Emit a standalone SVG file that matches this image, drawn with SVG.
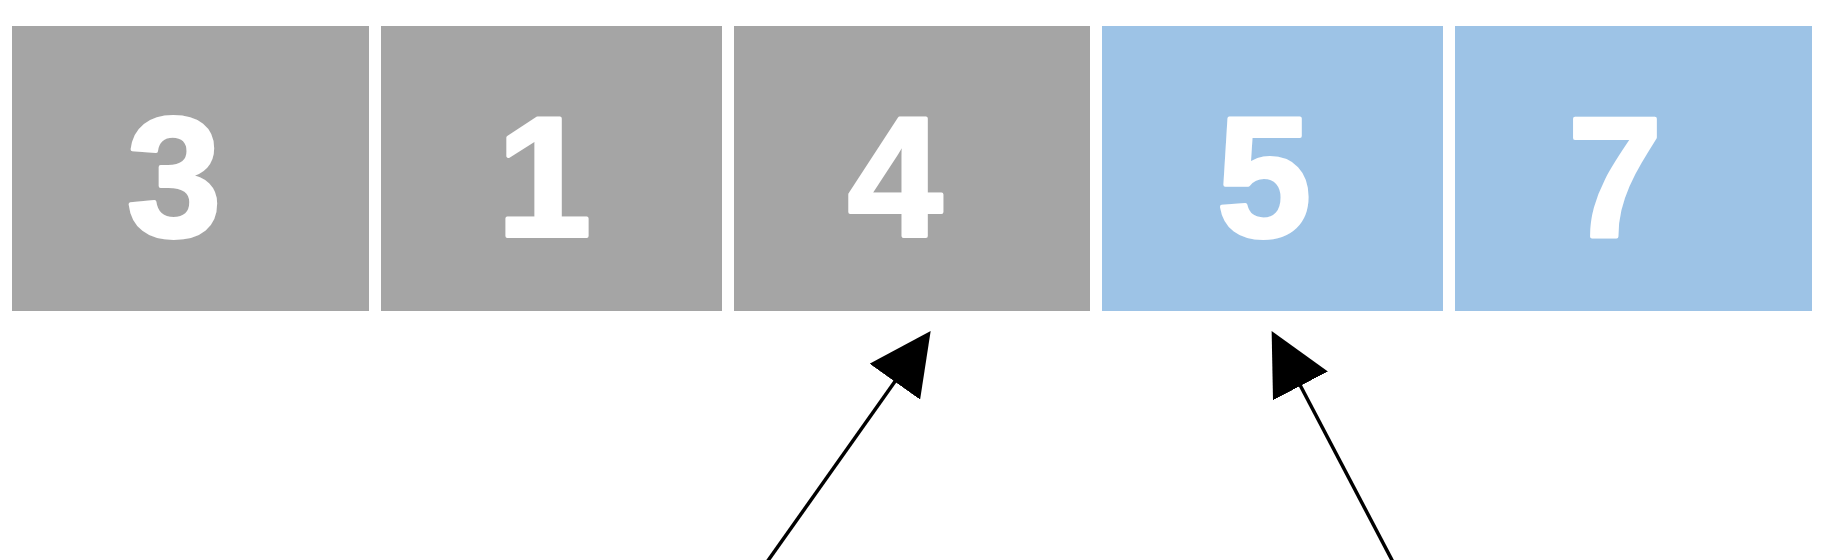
<svg xmlns="http://www.w3.org/2000/svg" width="1839" height="560" viewBox="0 0 1839 560">
<style>
.gray{fill:#A5A5A5}
.blue{fill:#9DC3E6}
.num{font-family:"Liberation Sans",Arial,sans-serif;font-weight:bold;font-size:170px;fill:#FFFFFF;stroke:#FFFFFF;stroke-width:4;stroke-linejoin:round;text-anchor:middle}
.conn{stroke:#000000;stroke-width:3.5;fill:none}
</style>
<defs>
<marker id="head" markerUnits="userSpaceOnUse" markerWidth="62" markerHeight="62" viewBox="0 0 60 60" refX="2" refY="30" orient="auto">
<path d="M0,0 L60,30 L0,60 Z" fill="#000000"/>
</marker>
</defs>
<rect width="1839" height="560" fill="#FFFFFF"/>
<g id="node-3"><rect class="gray" x="12" y="26" width="357" height="285"/><text class="num" x="174" y="236">3</text></g>
<g id="node-1"><rect class="gray" x="381" y="26" width="341" height="285"/><text class="num" x="544" y="236">1</text></g>
<g id="node-4"><rect class="gray" x="734" y="26" width="356" height="285"/><text class="num" x="895" y="236">4</text></g>
<g id="node-5"><rect class="blue" x="1102" y="26" width="341" height="285"/><text class="num" x="1264" y="236">5</text></g>
<g id="node-7"><rect class="blue" x="1455" y="26" width="357" height="285"/><text class="num" x="1615" y="236">7</text></g>
<g id="connectors">
<line class="conn" x1="767" y1="562" x2="896" y2="380" marker-end="url(#head)"/>
<line class="conn" x1="1393" y1="562" x2="1299.5" y2="384" marker-end="url(#head)"/>
</g>
</svg>
